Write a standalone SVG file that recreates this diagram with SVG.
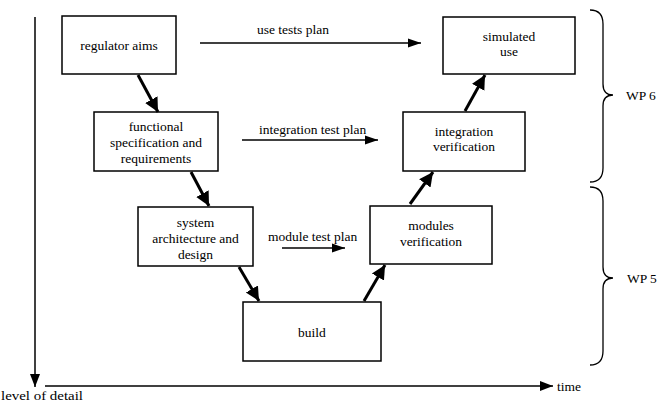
<svg xmlns="http://www.w3.org/2000/svg" width="657" height="404" viewBox="0 0 657 404">
<style>
.box{fill:#fff;stroke:#000;stroke-width:1.5}
.t{font-family:"Liberation Serif","Times New Roman",serif;font-size:13.5px;fill:#000;text-anchor:middle}
.tl{font-family:"Liberation Serif","Times New Roman",serif;font-size:13.5px;fill:#000}
.thick{stroke:#000;stroke-width:3;fill:none;marker-end:url(#big)}
.thin{stroke:#000;stroke-width:1.5;fill:none;marker-end:url(#small)}
.axis{stroke:#000;stroke-width:1.5;fill:none;marker-end:url(#ax)}
.brace{stroke:#000;stroke-width:1.3;fill:none}
</style>
<defs>
<marker id="big" markerUnits="userSpaceOnUse" markerWidth="16" markerHeight="16" viewBox="0 0 16 16" refX="14" refY="8" orient="auto">
<polygon points="0,1 14,8 0,15" fill="#000"/>
</marker>
<marker id="small" markerUnits="userSpaceOnUse" markerWidth="14" markerHeight="12" viewBox="0 0 14 12" refX="13" refY="6" orient="auto">
<polygon points="0,1.5 13,6 0,10.5" fill="#000"/>
</marker>
<marker id="ax" markerUnits="userSpaceOnUse" markerWidth="14" markerHeight="12" viewBox="0 0 14 12" refX="13" refY="6" orient="auto">
<polygon points="0,1 13,6 0,11" fill="#000"/>
</marker>
</defs>
<rect width="657" height="404" fill="#fff"/>

<g id="axes">
<line class="axis" x1="35" y1="17" x2="35" y2="387"/>
<line class="axis" x1="45" y1="386" x2="553" y2="386"/>
<text class="tl" x="1" y="400" font-size="14" textLength="82" lengthAdjust="spacingAndGlyphs">level of detail</text>
<text class="tl" x="557" y="391">time</text>
</g>

<g id="regulator">
<rect class="box" x="62" y="16" width="114" height="58"/>
<text class="t" x="119" y="50">regulator aims</text>
</g>
<g id="functional">
<rect class="box" x="94" y="112" width="124" height="59"/>
<text class="t" x="156" y="131">functional</text>
<text class="t" x="156" y="147">specification and</text>
<text class="t" x="156" y="163">requirements</text>
</g>
<g id="system">
<rect class="box" x="138" y="207" width="115" height="59"/>
<text class="t" x="195.5" y="227">system</text>
<text class="t" x="195.5" y="243">architecture and</text>
<text class="t" x="195.5" y="259">design</text>
</g>
<g id="build">
<rect class="box" x="243" y="302" width="138" height="59"/>
<text class="t" x="312" y="337">build</text>
</g>
<g id="modules">
<rect class="box" x="370" y="206" width="122" height="58"/>
<text class="t" x="431" y="230">modules</text>
<text class="t" x="431" y="246">verification</text>
</g>
<g id="integration">
<rect class="box" x="403" y="112" width="122" height="59"/>
<text class="t" x="464" y="136">integration</text>
<text class="t" x="464" y="151">verification</text>
</g>
<g id="simulated">
<rect class="box" x="443" y="17" width="132" height="57"/>
<text class="t" x="509" y="41">simulated</text>
<text class="t" x="509" y="56">use</text>
</g>

<g id="connectors">
<line class="thick" x1="138" y1="75" x2="158" y2="112"/>
<line class="thick" x1="191" y1="172" x2="209" y2="206"/>
<line class="thick" x1="239" y1="267" x2="259" y2="301"/>
<line class="thick" x1="364" y1="301" x2="385" y2="265"/>
<line class="thick" x1="410" y1="204" x2="433" y2="172"/>
<line class="thick" x1="465" y1="111" x2="485" y2="75"/>
<line class="thin" x1="200" y1="43" x2="421" y2="43"/>
<line class="thin" x1="242" y1="140" x2="378" y2="140"/>
<line class="thin" x1="282" y1="248" x2="345" y2="248"/>
<text class="tl" x="257" y="34">use tests plan</text>
<text class="tl" x="259" y="134">integration test plan</text>
<text class="tl" x="268" y="241">module test plan</text>
</g>

<g id="wp6">
<path class="brace" d="M590,10 Q603,10 603,24 L603,84 Q603,95 613,95 Q603,95 603,106 L603,168 Q603,182 590,182"/>
<text class="tl" x="626" y="100">WP 6</text>
</g>
<g id="wp5">
<path class="brace" d="M590,187 Q603,187 603,201 L603,267 Q603,278 613,278 Q603,278 603,289 L603,351 Q603,365 590,365"/>
<text class="tl" x="627" y="283">WP 5</text>
</g>
</svg>
